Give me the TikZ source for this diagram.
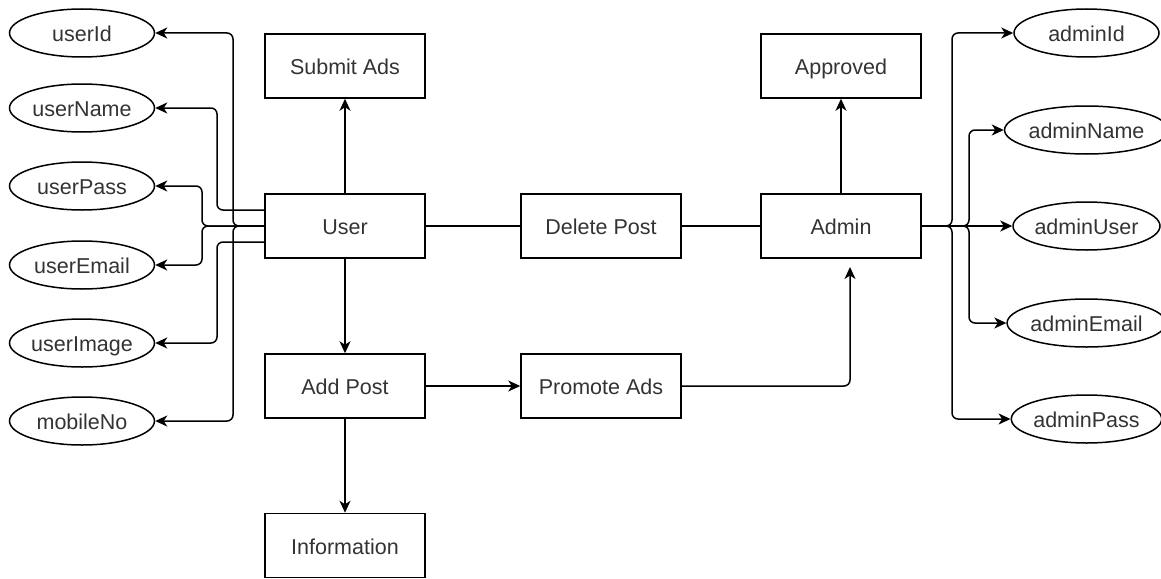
\documentclass[tikz,border=0pt]{standalone}
\usepackage{fontspec}
\setmainfont{Liberation Sans}
\usetikzlibrary{shapes.geometric,arrows.meta}
\definecolor{txt}{HTML}{333333}
\tikzset{
  box/.style={draw=black, line width=1.5pt, minimum width=160pt, minimum height=64pt, inner sep=0pt, text=txt, text height=18pt, text depth=1pt, font=\fontsize{21.5}{25}\selectfont},
  attr/.style={ellipse, draw=black, line width=1.5pt, minimum width=145pt, minimum height=48pt, inner sep=0pt, text=txt, text height=18pt, text depth=1pt, font=\fontsize{21.5}{25}\selectfont},
  conn/.style={draw=black, line width=1.5pt, rounded corners=6pt},
  arr/.style={conn, -{Stealth[length=12pt,width=11pt,inset=3.5pt]}}
}
\begin{document}
\begin{tikzpicture}[x=1pt,y=-1pt]
\useasboundingbox (0,0) rectangle (1161,578);
% boxes
\node[box] (submit) at (345,66) {Submit Ads};
\node[box] (user) at (345,226) {User};
\node[box] (del) at (601,226) {Delete Post};
\node[box] (admin) at (841,226) {Admin};
\node[box] (appr) at (841,66) {Approved};
\node[box] (addp) at (345,386) {Add Post};
\node[box] (promo) at (601,386) {Promote Ads};
\node[box] (info) at (345,545.5) {Information};
% left attributes
\node[attr] (uid) at (82,33) {userId};
\node[attr] (uname) at (82,108) {userName};
\node[attr] (upass) at (82,186) {userPass};
\node[attr] (uemail) at (82,265) {userEmail};
\node[attr] (uimg) at (82,343) {userImage};
\node[attr] (umob) at (82,421) {mobileNo};
% right attributes
\node[attr] (aid) at (1086.5,33) {adminId};
\node[attr] (aname) at (1086.5,130) {adminName};
\node[attr] (auser) at (1086.5,226) {adminUser};
\node[attr] (aemail) at (1086.5,323) {adminEmail};
\node[attr] (apass) at (1086.5,419) {adminPass};
% left connectors
\draw[arr] (user.west) -- (233,226) |- (uid.east);
\draw[arr] (user.west) -- (233,226) |- (umob.east);
\draw[arr] (user.west) -- (202,226) |- (upass.east);
\draw[arr] (user.west) -- (202,226) |- (uemail.east);
\draw[arr] ([yshift=16pt]user.west) -- (217,210) |- (uname.east);
\draw[arr] ([yshift=-16pt]user.west) -- (217,242) |- (uimg.east);
% right connectors
\draw[arr] (admin.east) -- (952,226) |- (aid.west);
\draw[arr] (admin.east) -- (969,226) |- (aname.west);
\draw[arr] (admin.east) -- (auser.west);
\draw[arr] (admin.east) -- (969,226) |- (aemail.west);
\draw[arr] (admin.east) -- (952,226) |- (apass.west);
% central connectors
\draw[arr] (user.north) -- (submit.south);
\draw[conn] (user.east) -- (del.west);
\draw[conn] (del.east) -- (admin.west);
\draw[arr] (admin.north) -- (appr.south);
\draw[arr] (user.south) -- (addp.north);
\draw[arr] (addp.east) -- (promo.west);
\coordinate (pend) at (850,267);
\draw[arr] (promo.east) -| (pend);
\draw[arr] (addp.south) -- (info.north);
\end{tikzpicture}
\end{document}
